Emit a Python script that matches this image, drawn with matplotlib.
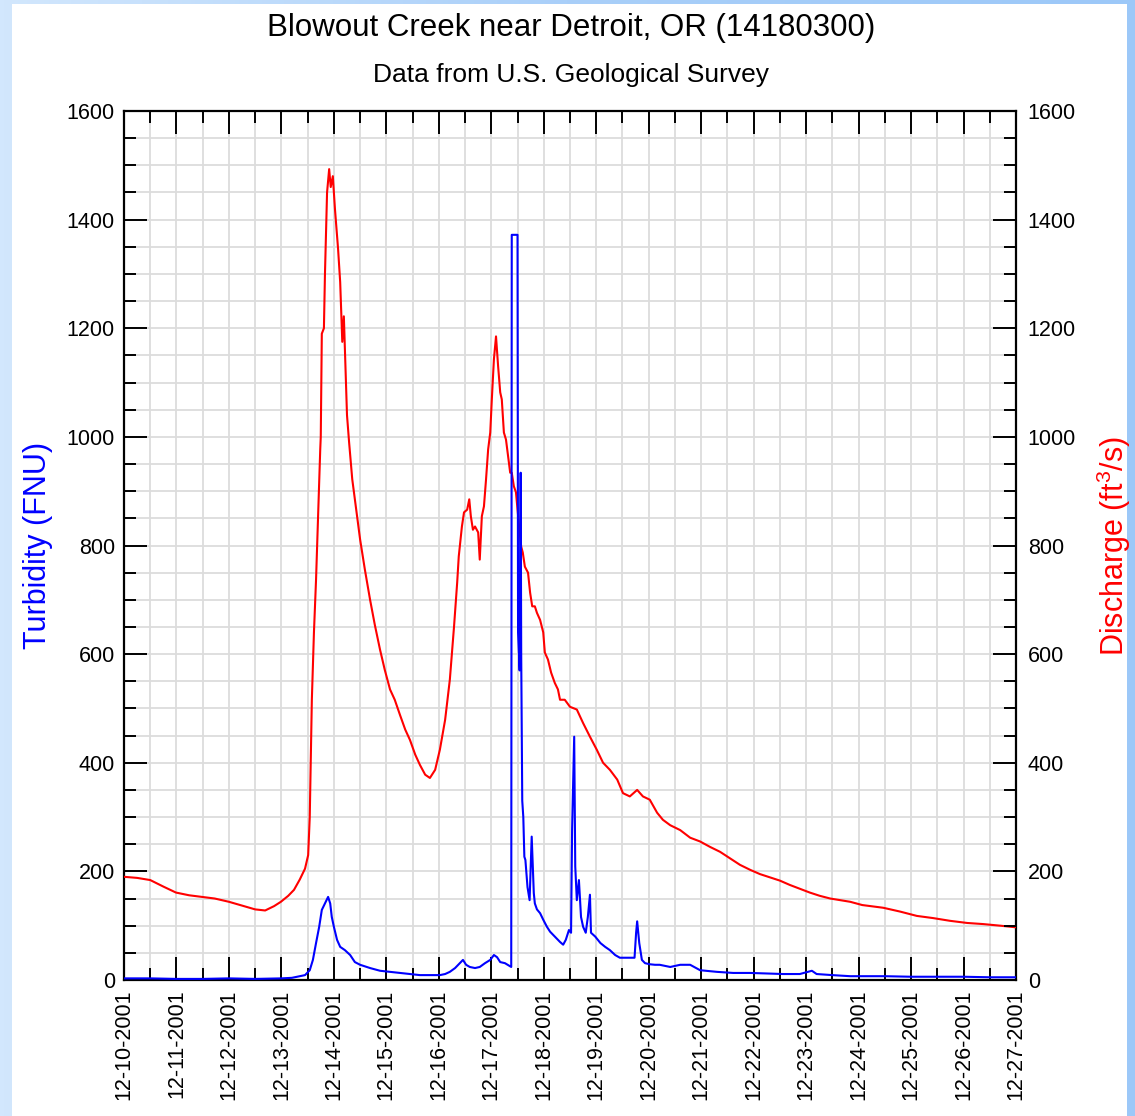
import numpy as np
import pandas as pd
import matplotlib
matplotlib.use('Agg')
import matplotlib.pyplot as plt
import matplotlib.dates as mdates
from matplotlib.patches import Rectangle
from matplotlib.ticker import MultipleLocator

plt.rcParams['font.family'] = ['Liberation Sans', 'DejaVu Sans']
plt.rcParams['mathtext.fontset'] = 'custom'
plt.rcParams['mathtext.rm'] = 'Liberation Sans'

start = pd.Timestamp('2001-12-10')
end = pd.Timestamp('2001-12-27')

# discharge (ft3/s), time as days after 12-10-2001 00:00
q_days = [0.00, 0.25, 0.50, 0.75, 0.99, 1.24, 1.49, 1.73, 2.00, 2.25, 2.50, 2.69, 2.86,
          2.99, 3.13, 3.24, 3.35, 3.45, 3.51, 3.54, 3.58, 3.62, 3.66, 3.70, 3.74, 3.75,
          3.77, 3.81, 3.83, 3.87, 3.91, 3.94, 3.98, 4.02, 4.08, 4.12, 4.16, 4.19, 4.21,
          4.25, 4.29, 4.35, 4.40, 4.50, 4.59, 4.69, 4.78, 4.88, 4.97, 5.07, 5.16, 5.26,
          5.36, 5.45, 5.55, 5.64, 5.74, 5.83, 5.93, 6.02, 6.12, 6.21, 6.29, 6.35, 6.38,
          6.44, 6.48, 6.54, 6.58, 6.61, 6.65, 6.69, 6.75, 6.78, 6.82, 6.86, 6.90, 6.94,
          6.98, 7.01, 7.05, 7.09, 7.13, 7.17, 7.20, 7.24, 7.28, 7.32, 7.36, 7.39, 7.43,
          7.47, 7.53, 7.57, 7.60, 7.64, 7.70, 7.74, 7.78, 7.83, 7.87, 7.93, 7.99, 8.02,
          8.08, 8.14, 8.21, 8.27, 8.31, 8.40, 8.50, 8.63, 8.75, 8.88, 9.01, 9.13, 9.26,
          9.40, 9.51, 9.64, 9.78, 9.89, 10.02, 10.16, 10.27, 10.41, 10.60, 10.79, 10.98,
          11.17, 11.36, 11.55, 11.74, 11.93, 12.12, 12.31, 12.50, 12.69, 12.88, 13.07,
          13.26, 13.46, 13.84, 14.07, 14.47, 14.79, 15.11, 15.42, 15.74, 16.07, 16.37,
          16.70, 17.00]
q_vals = [190, 188, 184, 172, 161, 156, 153, 150, 144, 137, 130, 128, 136,
          144, 155, 166, 185, 205, 230, 300, 516, 640, 737, 860, 977, 1000,
          1190, 1200, 1300, 1450, 1493, 1460, 1480, 1420, 1346, 1285, 1175, 1222, 1160,
          1040, 990, 922, 885, 811, 756, 700, 654, 608, 571, 535, 516, 488,
          461, 442, 415, 396, 378, 372, 387, 424, 479, 553, 651, 732, 780,
          835, 861, 866, 885, 854, 829, 835, 824, 774, 854, 872, 922, 977,
          1008, 1069, 1143, 1185, 1130, 1082, 1069, 1008, 995, 964, 934, 934, 909,
          898, 835, 798, 787, 761, 750, 713, 688, 688, 676, 663, 640, 603,
          590, 566, 547, 535, 516, 516, 503, 498, 473, 448, 424, 400, 387,
          369, 344, 338, 350, 338, 332, 308, 295, 285, 276, 262, 255,
          245, 236, 224, 212, 203, 195, 189, 183, 175, 168, 161,
          155, 150, 144, 138, 133, 126, 118, 114, 109, 105, 103,
          100, 97]

# turbidity (FNU)
t_days = [0.00, 0.50, 1.00, 1.50, 2.00, 2.50, 3.00, 3.20, 3.35, 3.45, 3.54, 3.60, 3.66,
          3.72, 3.77, 3.83, 3.89, 3.93, 3.96, 4.00, 4.06, 4.12, 4.21, 4.31, 4.40, 4.50,
          4.69, 4.88, 5.07, 5.26, 5.45, 5.64, 5.83, 6.02, 6.12, 6.21, 6.31, 6.40, 6.46,
          6.52, 6.59, 6.69, 6.78, 6.88, 6.98, 7.05, 7.11, 7.17, 7.26, 7.38, 7.39, 7.50,
          7.51, 7.54, 7.56, 7.57, 7.59, 7.61, 7.63, 7.65, 7.69, 7.73, 7.77, 7.81, 7.83,
          7.87, 7.93, 7.99, 8.06, 8.12, 8.21, 8.31, 8.37, 8.42, 8.48, 8.52, 8.54, 8.58,
          8.60, 8.63, 8.67, 8.71, 8.75, 8.80, 8.84, 8.88, 8.90, 8.98, 9.08, 9.17, 9.26,
          9.36, 9.45, 9.55, 9.73, 9.76, 9.78, 9.82, 9.87, 9.93, 10.02, 10.12, 10.21,
          10.31, 10.41, 10.60, 10.79, 10.98, 11.30, 11.61, 11.93, 12.25, 12.56, 12.88,
          13.11, 13.20, 13.50, 13.84, 14.50, 15.00, 15.50, 16.00, 16.50, 17.00]
t_vals = [3, 3, 2, 2, 3, 2, 3, 4, 7, 9, 18, 37, 68,
          98, 129, 141, 153, 141, 116, 98, 74, 61, 55, 46, 33, 28,
          22, 17, 15, 13, 11, 9, 9, 9, 11, 15, 22, 31, 37,
          28, 24, 22, 24, 31, 37, 46, 42, 33, 31, 24, 1372, 1372,
          640, 570, 934, 600, 330, 300, 227, 221, 171, 147, 264, 160, 141,
          130, 123, 111, 98, 89, 80, 70, 65, 74, 92, 87, 277, 448,
          209, 147, 184, 116, 98, 87, 116, 157, 87, 80, 68, 61, 55,
          46, 41, 41, 41, 87, 108, 68, 37, 31, 29, 28, 28,
          26, 24, 28, 28, 18, 15, 13, 13, 12, 11, 11,
          17, 11, 9, 7, 7, 6, 6, 6, 5, 5]

q_time = start + pd.to_timedelta(q_days, unit='D')
t_time = start + pd.to_timedelta(t_days, unit='D')

fig = plt.figure(figsize=(11.35, 11.16), dpi=100)

# light blue frame around white card
bg = fig.add_axes([0, 0, 1, 1], zorder=-10)
grad = np.linspace(0, 1, 256).reshape(1, -1)
cmap = matplotlib.colors.LinearSegmentedColormap.from_list('frame', ['#d2e7fd', '#a9cff9', '#9cc8f8'])
bg.imshow(grad, aspect='auto', cmap=cmap, extent=[0, 1, 0, 1])
bg.add_patch(Rectangle((12 / 1135, 0), (1127 - 12) / 1135, 1 - 4 / 1116,
                       facecolor='white', edgecolor='none'))
bg.set_xlim(0, 1)
bg.set_ylim(0, 1)
bg.axis('off')

ax = fig.add_axes([124 / 1135, 1 - 980 / 1116, 892 / 1135, 869 / 1116])
ax.set_facecolor('white')

ax.plot(q_time, q_vals, color='#ff0000', lw=1.5, zorder=3)
ax.plot(t_time, t_vals, color='#0000ff', lw=1.5, zorder=4)

ax.set_xlim(start, end)
ax.set_ylim(0, 1600)
ax.xaxis.set_major_locator(mdates.DayLocator())
ax.xaxis.set_minor_locator(mdates.HourLocator(byhour=[12]))
ax.xaxis.set_major_formatter(mdates.DateFormatter('%m-%d-%Y'))
ax.yaxis.set_major_locator(MultipleLocator(200))
ax.yaxis.set_minor_locator(MultipleLocator(50))

ax.grid(which='both', color='#dcdcdc', lw=1.3, zorder=0)
ax.set_axisbelow(True)

for s in ax.spines.values():
    s.set_linewidth(1.6)

ax.tick_params(which='major', direction='in', length=16.5, width=1.4,
               top=True, right=True, labelsize=15.5, pad=6.5)
ax.tick_params(which='minor', direction='in', length=8.5, width=1.4,
               top=True, right=True)
ax.tick_params(axis='x', pad=7)
plt.setp(ax.get_xticklabels(), rotation=90)

ax2 = ax.twinx()
ax2.set_ylim(0, 1600)
ax2.yaxis.set_major_locator(MultipleLocator(200))
ax2.yaxis.set_minor_locator(MultipleLocator(50))
ax2.tick_params(which='major', direction='in', length=16.5, width=1.4, labelsize=15.5, pad=8.5)
ax2.tick_params(which='minor', direction='in', length=8.5, width=1.4)
for s in ax2.spines.values():
    s.set_visible(False)

ax.set_ylabel('Turbidity (FNU)', color='#0000ff', fontsize=22)
ax.yaxis.set_label_coords(-0.080, 0.5)
ax2.set_ylabel(r'Discharge (ft$^{\mathrm{3}}$/s)', color='#ff0000', fontsize=22)
ax2.yaxis.set_label_coords(1.0886, 0.5)

fig.text(571 / 1135, 1 - 28 / 1116, 'Blowout Creek near Detroit, OR (14180300)',
         ha='center', va='center', fontsize=22.5)
fig.text(571 / 1135, 1 - 75 / 1116, 'Data from U.S. Geological Survey',
         ha='center', va='center', fontsize=19)

fig.savefig('out.png', dpi=100)
